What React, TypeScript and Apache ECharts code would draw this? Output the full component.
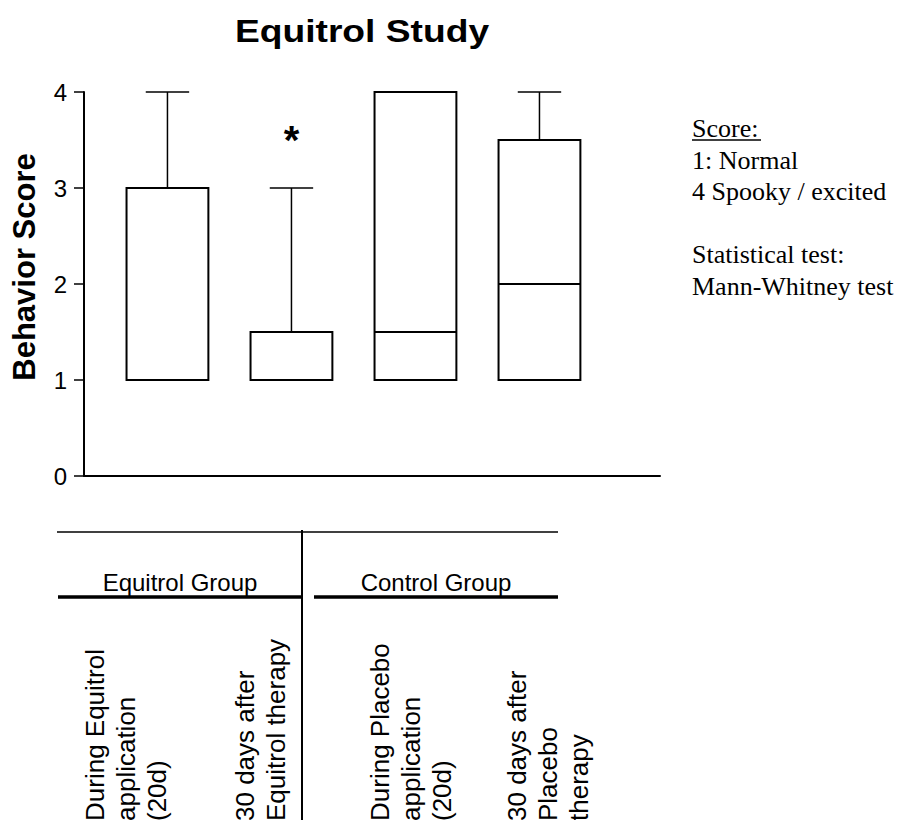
import React, { useEffect, useRef } from "react";
import * as echarts from "echarts";

// ---- Data ----
const categories = [
  "During Equitrol application (20d)",
  "30 days after Equitrol therapy",
  "During Placebo application (20d)",
  "30 days after Placebo therapy",
];
const whiskerMin = [1, 1, 1, 1];
const q1 = [1, 1, 1, 1];
const median = [1, 1, 1.5, 2];
const q3 = [3, 1.5, 4, 3.5];
const whiskerMax = [4, 3, 4, 4];
const sigIndex = [2]; // 1-based category position
const sigY = [3.5];
const sigMark = ["*"];
const yTicks = [0, 1, 2, 3, 4];

const groupLabels = ["Equitrol Group", "Control Group"];
const categoryLabelLines = [
  ["During Equitrol", "application", "(20d)"],
  ["30 days after", "Equitrol therapy"],
  ["During Placebo", "application", "(20d)"],
  ["30 days after", "Placebo", "therapy"],
];
const noteLines = ["Score:", "1: Normal", "4 Spooky / excited", "", "Statistical test:", "Mann-Whitney test"];

const SANS = "Liberation Sans";
const SERIF = "Liberation Serif";

export default function App() {
  const ref = useRef<HTMLDivElement>(null);

  useEffect(() => {
    if (!ref.current) return;
    const chart = echarts.init(ref.current, undefined, { renderer: "svg" });

    const boxData = categories.map((_, i) => [
      i + 1,
      whiskerMin[i],
      q1[i],
      median[i],
      q3[i],
      whiskerMax[i],
    ]);
    const sigData = sigIndex.map((x, i) => [x, sigY[i], sigMark[i]]);

    const BOX_W = 0.66;
    const CAP_W = 0.35;

    const labelX = [79, 229, 364, 501];

    const option: any = {
      animation: false,
      backgroundColor: "#ffffff",
      textStyle: { fontFamily: SANS, color: "#000" },
      grid: { left: 84, top: 92, width: 576, height: 384, containLabel: false },
      xAxis: {
        type: "value",
        min: 0.327,
        max: 4.972,
        axisLine: { show: true, lineStyle: { color: "#000", width: 2 } },
        axisTick: { show: false },
        axisLabel: { show: false },
        splitLine: { show: false },
      },
      yAxis: {
        type: "value",
        min: yTicks[0],
        max: yTicks[yTicks.length - 1],
        interval: 1,
        axisLine: { show: true, lineStyle: { color: "#000", width: 2 } },
        axisTick: { show: true, length: 10, inside: false, lineStyle: { color: "#000", width: 1.5 } },
        axisLabel: {
          show: true,
          color: "#000",
          fontSize: 24,
          fontFamily: SANS,
          margin: 17,
        },
        splitLine: { show: false },
      },
      series: [
        {
          type: "custom",
          data: boxData,
          clip: false,
          renderItem: (params: any, api: any) => {
            const x = api.value(0);
            const pMin = api.coord([x, api.value(1)]);
            const pQ1 = api.coord([x, api.value(2)]);
            const pMed = api.coord([x, api.value(3)]);
            const pQ3 = api.coord([x, api.value(4)]);
            const pMax = api.coord([x, api.value(5)]);
            const hb = api.size([BOX_W, 0])[0] / 2;
            const hc = api.size([CAP_W, 0])[0] / 2;
            const cx = pQ1[0];
            const lineStyle = { stroke: "#000", lineWidth: 1.5 };
            return {
              type: "group",
              children: [
                {
                  type: "line",
                  shape: { x1: cx, y1: pQ3[1], x2: cx, y2: pMax[1] },
                  style: lineStyle,
                },
                {
                  type: "line",
                  shape: { x1: cx - hc, y1: pMax[1], x2: cx + hc, y2: pMax[1] },
                  style: lineStyle,
                },
                {
                  type: "line",
                  shape: { x1: cx, y1: pQ1[1], x2: cx, y2: pMin[1] },
                  style: lineStyle,
                },
                {
                  type: "line",
                  shape: { x1: cx - hc, y1: pMin[1], x2: cx + hc, y2: pMin[1] },
                  style: lineStyle,
                },
                {
                  type: "rect",
                  shape: { x: cx - hb, y: pQ3[1], width: hb * 2, height: pQ1[1] - pQ3[1] },
                  style: { fill: "#fff", stroke: "#000", lineWidth: 2 },
                },
                {
                  type: "line",
                  shape: { x1: cx - hb, y1: pMed[1], x2: cx + hb, y2: pMed[1] },
                  style: { stroke: "#000", lineWidth: 2 },
                },
              ],
            };
          },
        },
        {
          type: "custom",
          data: sigData,
          clip: false,
          renderItem: (params: any, api: any) => {
            const p = api.coord([api.value(0), api.value(1)]);
            return {
              type: "text",
              x: p[0],
              y: p[1],
              style: {
                text: sigMark[params.dataIndex],
                fill: "#000",
                fontSize: 40,
                fontWeight: "bold",
                fontFamily: SANS,
                align: "center",
                verticalAlign: "middle",
              },
            };
          },
        },
      ],
      graphic: [
        {
          type: "text",
          x: 362,
          y: 31,
          scaleX: 1.2,
          style: {
            text: "Equitrol Study",
            fill: "#000",
            fontSize: 31,
            fontWeight: "bold",
            fontFamily: SANS,
            align: "center",
            verticalAlign: "middle",
          },
        },
        {
          type: "text",
          x: 24,
          y: 267,
          rotation: Math.PI / 2,
          style: {
            text: "Behavior Score",
            fill: "#000",
            fontSize: 31,
            fontWeight: "bold",
            fontFamily: SANS,
            align: "center",
            verticalAlign: "middle",
          },
        },
        {
          type: "text",
          x: 692,
          y: 113,
          style: {
            text: noteLines.join("\n"),
            fill: "#000",
            fontSize: 26,
            lineHeight: 31.5,
            fontFamily: SERIF,
            align: "left",
            verticalAlign: "top",
          },
        },
        {
          type: "line",
          shape: { x1: 692, y1: 140, x2: 761, y2: 140 },
          style: { stroke: "#000", lineWidth: 1.5 },
        },
        {
          type: "line",
          shape: { x1: 57, y1: 532, x2: 558, y2: 532 },
          style: { stroke: "#000", lineWidth: 1.5 },
        },
        {
          type: "line",
          shape: { x1: 302, y1: 530, x2: 302, y2: 820 },
          style: { stroke: "#000", lineWidth: 2 },
        },
        {
          type: "line",
          shape: { x1: 58, y1: 597, x2: 301, y2: 597 },
          style: { stroke: "#000", lineWidth: 3.5 },
        },
        {
          type: "line",
          shape: { x1: 314, y1: 597, x2: 558, y2: 597 },
          style: { stroke: "#000", lineWidth: 3.5 },
        },
        ...groupLabels.map((t, i) => ({
          type: "text",
          x: [180, 436][i],
          y: 582,
          style: {
            text: t,
            fill: "#000",
            fontSize: 24,
            fontFamily: SANS,
            align: "center",
            verticalAlign: "middle",
          },
        })),
        ...categoryLabelLines.map((lines, i) => ({
          type: "text",
          x: labelX[i],
          y: 821,
          rotation: Math.PI / 2,
          style: {
            text: lines.join("\n"),
            fill: "#000",
            fontSize: 26,
            lineHeight: 31,
            fontFamily: SANS,
            align: "left",
            verticalAlign: "top",
          },
        })),
      ],
    };

    chart.setOption(option);
    return () => chart.dispose();
  }, []);

  return (
    <div
      ref={ref}
      style={{ position: "fixed", left: 0, top: 0, width: 903, height: 820, background: "#fff" }}
    />
  );
}
